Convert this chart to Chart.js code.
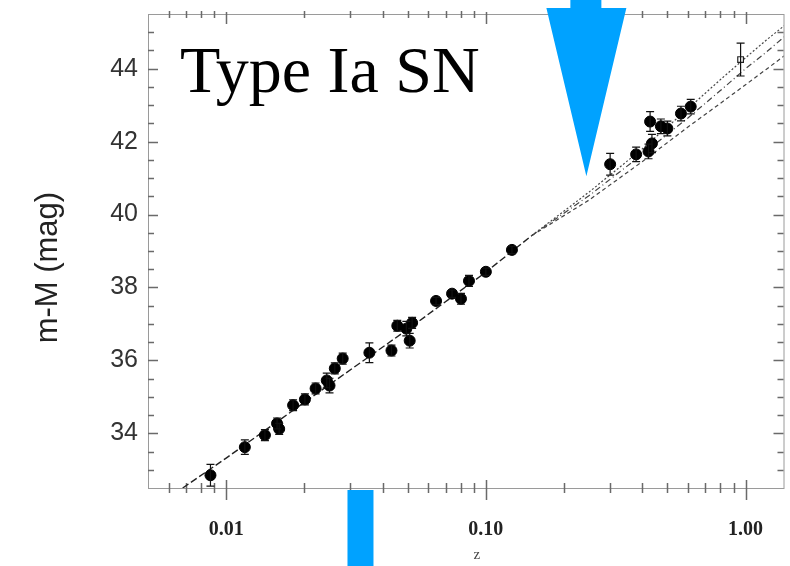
<!DOCTYPE html>
<html>
<head>
<meta charset="utf-8">
<script src="https://cdn.jsdelivr.net/npm/chart.js@4.4.1/dist/chart.umd.min.js"></script>
<style>
  html, body { margin: 0; padding: 0; background: #ffffff; }
  #wrap { width: 790px; height: 566px; position: relative; }
</style>
</head>
<body>
<div id="wrap"><canvas id="c" width="790" height="566"></canvas></div>
<script>
// ---------- data ----------
// Supernova points: redshift, distance modulus, error half-width
const snZ   = [0.0087, 0.0118, 0.0141, 0.0157, 0.0160, 0.0181, 0.0201, 0.0221, 0.0244, 0.0250,
               0.0262, 0.0281, 0.0356, 0.0433, 0.0456, 0.0494, 0.0520, 0.0509, 0.0643, 0.0741,
               0.0802, 0.0861, 0.100, 0.126, 0.301, 0.379, 0.423, 0.436, 0.429, 0.472,
               0.500, 0.564, 0.615];
const snMu  = [32.85, 33.62, 33.95, 34.27, 34.12, 34.77, 34.93, 35.23, 35.45, 35.31,
               35.78, 36.05, 36.21, 36.27, 36.95, 36.87, 37.03, 36.54, 37.63, 37.83,
               37.69, 38.18, 38.43, 39.03, 41.38, 41.65, 41.73, 41.95, 42.55, 42.42,
               42.36, 42.77, 42.96];
const snErr = [0.30, 0.20, 0.15, 0.15, 0.15, 0.15, 0.15, 0.15, 0.20, 0.20,
               0.15, 0.15, 0.27, 0.15, 0.15, 0.20, 0.15, 0.20, 0.10, 0.10,
               0.15, 0.15, 0.10, 0.10, 0.30, 0.20, 0.20, 0.25, 0.27, 0.20,
               0.20, 0.20, 0.20];
// open symbol at high z
const openZ   = [0.957];
const openMu  = [44.25];
const openErr = [0.45];

// model curves
const lowZ    = [0.0068, 0.01, 0.02, 0.05, 0.1, 0.15];
const lowMu   = [32.50, 33.32, 34.85, 36.85, 38.42, 39.42];
const hiZ     = [0.15, 0.25, 0.4, 0.6, 0.8, 1.0, 1.2, 1.45];
const upperMu = [39.42, 40.62, 41.80, 42.90, 43.70, 44.30, 44.78, 45.25];
const midMu   = [39.42, 40.52, 41.65, 42.65, 43.40, 44.00, 44.45, 44.95];
const lowerMu = [39.42, 40.40, 41.45, 42.40, 43.05, 43.56, 43.98, 44.42];

// axis ticks and titles
const yLabelValues = [34, 36, 38, 40, 42, 44];
const xLabelValues = [0.01, 0.1, 1];
const xLabelTexts  = ['0.01', '0.10', '1.00'];
const yTitle = 'm-M (mag)';
const xTitle = 'z';

// annotations (in data units)
const arrowZ = 0.2438, arrowTipMu = 41.05;
const barZ = 0.0329;
const annotationText = 'Type Ia SN';

// ---------- helpers ----------
const pts = (xs, ys) => xs.map((x, i) => ({ x: x, y: ys[i] }));
const isDecade = v => Math.abs(Math.log10(v) - Math.round(Math.log10(v))) < 1e-6;
const isNiceLog = v => {
  const p = Math.pow(10, Math.floor(Math.log10(v) + 1e-9));
  const r = v / p;
  return Math.abs(r - Math.round(r)) < 1e-6;
};

const errorBarPlugin = {
  id: 'errorBars',
  afterDatasetsDraw(chart) {
    const ctx = chart.ctx, xs = chart.scales.x, ys = chart.scales.y;
    ctx.save();
    ctx.strokeStyle = '#111';
    ctx.lineWidth = 1.2;
    chart.data.datasets.forEach(ds => {
      if (!ds.errors) return;
      ds.data.forEach((p, i) => {
        const e = ds.errors[i];
        const px = xs.getPixelForValue(p.x);
        const y1 = ys.getPixelForValue(p.y + e);
        const y2 = ys.getPixelForValue(p.y - e);
        ctx.beginPath();
        ctx.moveTo(px, y1); ctx.lineTo(px, y2);
        ctx.moveTo(px - 4, y1); ctx.lineTo(px + 4, y1);
        ctx.moveTo(px - 4, y2); ctx.lineTo(px + 4, y2);
        ctx.stroke();
      });
    });
    ctx.restore();
  }
};

const framePlugin = {
  id: 'frame',
  beforeDatasetsDraw(chart) {
    const ctx = chart.ctx, a = chart.chartArea;
    const xs = chart.scales.x, ys = chart.scales.y;
    ctx.save();
    ctx.strokeStyle = '#9a9a9a';
    ctx.lineWidth = 1;
    ctx.strokeRect(a.left + 0.5, a.top + 0.5, a.right - a.left, a.bottom - a.top);
    ctx.strokeStyle = '#6a6a6a';
    ctx.lineWidth = 1.5;
    // y ticks (left and right)
    ys.ticks.forEach(t => {
      const v = t.value;
      const major = Math.abs(v / 2 - Math.round(v / 2)) < 1e-6;
      const len = major ? 10 : 6;
      const py = Math.round(ys.getPixelForValue(v)) + 0.5;
      if (py < a.top + 2 || py > a.bottom - 2) return;
      ctx.beginPath();
      ctx.moveTo(a.left, py); ctx.lineTo(a.left + len, py);
      ctx.moveTo(a.right, py); ctx.lineTo(a.right - len, py);
      ctx.stroke();
    });
    // x ticks (bottom and top)
    xs.ticks.forEach(t => {
      const v = t.value;
      if (!isNiceLog(v)) return;
      const major = isDecade(v);
      const px = Math.round(xs.getPixelForValue(v)) + 0.5;
      if (px < a.left + 2 || px > a.right - 2) return;
      ctx.beginPath();
      if (major) {
        ctx.moveTo(px, a.bottom - 8); ctx.lineTo(px, a.bottom + 12);
        ctx.moveTo(px, a.top - 2); ctx.lineTo(px, a.top + 10);
      } else {
        ctx.moveTo(px, a.bottom - 5); ctx.lineTo(px, a.bottom + 5);
        ctx.moveTo(px, a.top - 3); ctx.lineTo(px, a.top + 4);
      }
      ctx.stroke();
    });
    // axis titles
    ctx.fillStyle = '#222';
    ctx.textAlign = 'center';
    ctx.textBaseline = 'middle';
    ctx.save();
    ctx.translate(48, a.top + (a.bottom - a.top) * 0.535);
    ctx.rotate(-Math.PI / 2);
    ctx.font = '31px "Liberation Sans", Arial, sans-serif';
    ctx.fillText(yTitle, 0, 0);
    ctx.restore();
    ctx.fillStyle = '#444';
    ctx.font = '15px "Liberation Serif", serif';
    ctx.fillText(xTitle, xs.getPixelForValue(0.1) - 9, chart.height - 11);
    ctx.restore();
  }
};

const overlayPlugin = {
  id: 'overlay',
  afterDraw(chart) {
    const ctx = chart.ctx, a = chart.chartArea;
    const xs = chart.scales.x, ys = chart.scales.y;
    ctx.save();
    // label
    ctx.fillStyle = '#000';
    ctx.font = '66px "Liberation Serif", "Times New Roman", serif';
    ctx.textBaseline = 'alphabetic';
    ctx.textAlign = 'left';
    ctx.fillText(annotationText, a.left + 32, a.top + 78);
    // blue arrow at top
    ctx.fillStyle = '#00a2ff';
    const ax = xs.getPixelForValue(arrowZ);
    const ay = ys.getPixelForValue(arrowTipMu);
    ctx.beginPath();
    ctx.moveTo(ax - 16, 0);
    ctx.lineTo(ax + 15, 0);
    ctx.lineTo(ax + 15, 8);
    ctx.lineTo(ax + 40, 8);
    ctx.lineTo(ax, ay);
    ctx.lineTo(ax - 40, 8);
    ctx.lineTo(ax - 16, 8);
    ctx.closePath();
    ctx.fill();
    // blue bar at bottom
    const bx = xs.getPixelForValue(barZ);
    ctx.fillRect(bx - 13, a.bottom + 2, 26, chart.height - a.bottom);
    ctx.restore();
  }
};

new Chart(document.getElementById('c'), {
  type: 'scatter',
  data: {
    datasets: [
      { label: 'low', data: pts(lowZ, lowMu), showLine: true, pointRadius: 0,
        borderColor: '#222', borderWidth: 1.4, borderDash: [7, 3], fill: false, order: 5 },
      { label: 'upper', data: pts(hiZ, upperMu), showLine: true, pointRadius: 0,
        borderColor: '#444', borderWidth: 1.2, borderDash: [2, 2], fill: false, order: 5 },
      { label: 'mid', data: pts(hiZ, midMu), showLine: true, pointRadius: 0,
        borderColor: '#444', borderWidth: 1.2, borderDash: [6, 3, 1, 3], fill: false, order: 5 },
      { label: 'lower', data: pts(hiZ, lowerMu), showLine: true, pointRadius: 0,
        borderColor: '#444', borderWidth: 1.2, borderDash: [4, 3], fill: false, order: 5 },
      { label: 'SN', data: pts(snZ, snMu), errors: snErr, showLine: false,
        pointRadius: 5.5, pointBackgroundColor: '#000', pointBorderColor: '#000',
        pointBorderWidth: 1, order: 1 },
      { label: 'open', data: pts(openZ, openMu), errors: openErr, showLine: false,
        pointStyle: 'rect', pointRadius: 4, pointBackgroundColor: '#fff',
        pointBorderColor: '#222', pointBorderWidth: 1.2, order: 1 }
    ]
  },
  options: {
    responsive: false,
    animation: false,
    devicePixelRatio: 1,
    layout: { padding: { top: 14, right: 5, left: 0, bottom: 0 } },
    plugins: { legend: { display: false }, tooltip: { enabled: false } },
    scales: {
      x: {
        type: 'logarithmic',
        min: 0.005, max: 1.4,
        grid: { display: false, drawTicks: false },
        border: { display: false },
        ticks: {
          autoSkip: false, maxRotation: 0, minRotation: 0, padding: 30,
          color: '#222',
          font: { family: '"Liberation Serif", serif', size: 20, weight: 'bold' },
          callback: (v) => {
            for (let i = 0; i < xLabelValues.length; i++) {
              if (Math.abs(v - xLabelValues[i]) / xLabelValues[i] < 1e-6) return xLabelTexts[i];
            }
            return '';
          }
        },
        title: { display: false },
        afterFit: s => { s.height = 78; s.paddingLeft = 0; s.paddingRight = 0; }
      },
      y: {
        min: 32.5, max: 45.5,
        grid: { display: false, drawTicks: false },
        border: { display: false },
        ticks: {
          stepSize: 0.5, autoSkip: false, padding: 10,
          color: '#333',
          font: { family: '"Liberation Sans", Arial, sans-serif', size: 25 },
          callback: (v) => yLabelValues.some(L => Math.abs(L - v) < 1e-6) ? String(v) : ''
        },
        title: { display: false },
        afterFit: s => { s.width = 148; s.paddingTop = 0; s.paddingBottom = 0; }
      }
    }
  },
  plugins: [framePlugin, errorBarPlugin, overlayPlugin]
});
</script>
</body>
</html>
